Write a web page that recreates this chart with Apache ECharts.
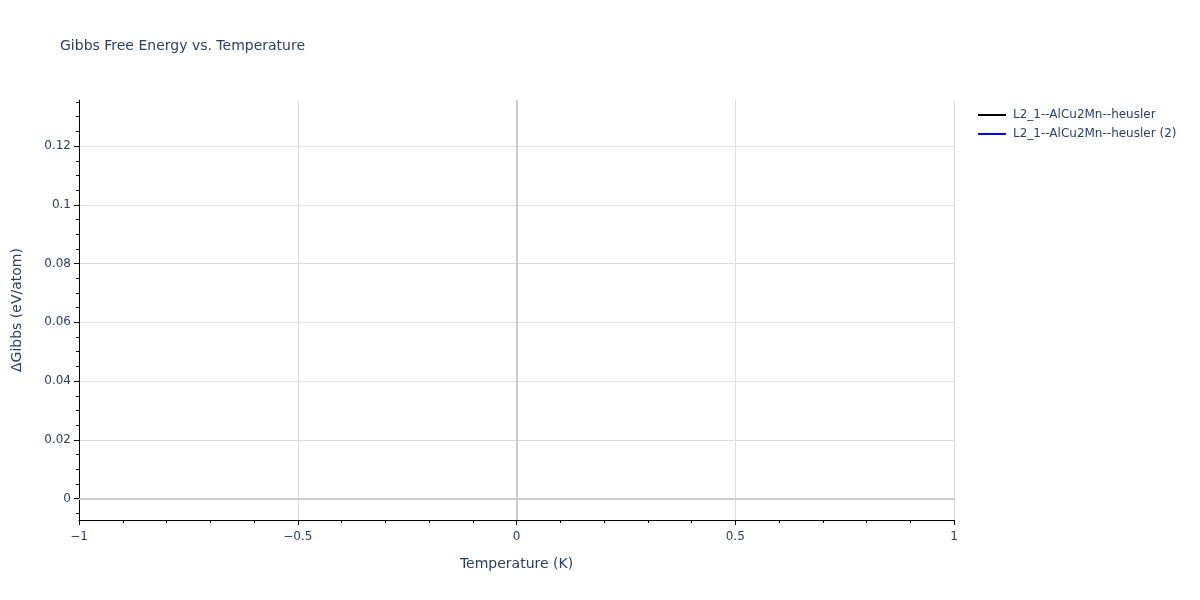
<!DOCTYPE html>
<html>
<head>
<meta charset="utf-8">
<script src="https://cdn.jsdelivr.net/npm/echarts@6/dist/echarts.min.js"></script>
<style>
    html, body { margin: 0; padding: 0; background: #fff; }
    #chart { width: 1200px; height: 600px; }
</style>
</head>
<body>
<div id="chart"></div>
<script>
// series names and values (the traces carry no visible points)
var seriesNames = ['L2_1--AlCu2Mn--heusler', 'L2_1--AlCu2Mn--heusler (2)'];
var seriesColors = ['#000000', '#0000ff'];
var temperature = [0];
var gibbsA = [0];
var gibbsB = [0];

// axis ranges and tick values
var xRange = [-1, 1];
var yRange = [-0.0073, 0.1357];
var yMajorTicks = [0, 0.02, 0.04, 0.06, 0.08, 0.1, 0.12];
var yMinorTicks = [-0.005, 0.005, 0.01, 0.015, 0.025, 0.03, 0.035, 0.045, 0.05, 0.055,
    0.065, 0.07, 0.075, 0.085, 0.09, 0.095, 0.105, 0.11, 0.115, 0.125, 0.13, 0.135];

var textColor = '#2a3f5f';
var fontFamily = '"DejaVu Sans", Verdana, sans-serif';

function toPairs(xs, ys) {
    return xs.map(function (x, i) { return [x, ys[i]]; });
}

function minus(v) {
    return String(v).replace('-', '\u2212');
}

var chart = echarts.init(document.getElementById('chart'), null, { renderer: 'canvas' });

var option = {
    backgroundColor: '#fff',
    textStyle: { fontFamily: fontFamily },
    title: {
        text: 'Gibbs Free Energy vs. Temperature',
        left: 55,
        top: 34,
        textStyle: { color: textColor, fontSize: 14, fontWeight: 'normal', fontFamily: fontFamily }
    },
    legend: {
        orient: 'vertical',
        left: 973,
        top: 104,
        itemWidth: 28,
        itemHeight: 2,
        itemGap: 7,
        icon: 'rect',
        textStyle: { color: textColor, fontSize: 12, padding: [0, 0, 0, 2], fontFamily: fontFamily },
        data: seriesNames
    },
    grid: { left: 79, right: 246, top: 100, bottom: 80 },
    xAxis: {
        type: 'value',
        min: xRange[0],
        max: xRange[1],
        interval: 0.5,
        name: 'Temperature (K)',
        nameLocation: 'middle',
        nameGap: 37,
        nameTextStyle: { color: textColor, fontSize: 14, fontFamily: fontFamily },
        axisLine: { show: true, onZero: false, lineStyle: { color: '#000', width: 1 } },
        axisTick: { show: true, length: 5, lineStyle: { color: '#000' } },
        minorTick: { show: true, splitNumber: 5, length: 3, lineStyle: { color: '#000' } },
        axisLabel: {
            color: textColor, fontSize: 12, margin: 11,
            formatter: function (v) { return minus(v); }
        },
        splitLine: { show: true, lineStyle: { color: '#dddddd', width: 1 } }
    },
    yAxis: [{
        type: 'value',
        min: yRange[0],
        max: yRange[1],
        name: '\u0394Gibbs (eV/atom)',
        nameLocation: 'middle',
        nameGap: 55,
        nameTextStyle: { color: textColor, fontSize: 14, fontFamily: fontFamily },
        axisLine: { show: true, onZero: false, lineStyle: { color: '#000', width: 1 } },
        axisTick: { show: true, length: 5, customValues: yMajorTicks, lineStyle: { color: '#000' } },
        axisLabel: {
            color: textColor, fontSize: 12, margin: 8,
            customValues: yMajorTicks,
            formatter: function (v) { return minus(+v.toFixed(3)); }
        },
        splitLine: { show: true, lineStyle: { color: '#dddddd', width: 1 } }
    }, {
        type: 'value',
        min: yRange[0],
        max: yRange[1],
        position: 'left',
        axisLine: { show: false, onZero: false },
        axisTick: { show: true, length: 3, customValues: yMinorTicks, lineStyle: { color: '#000' } },
        axisLabel: { show: false },
        splitLine: { show: false }
    }],
    series: [{
        name: seriesNames[0],
        type: 'line',
        data: toPairs(temperature, gibbsA),
        showSymbol: false,
        color: seriesColors[0],
        lineStyle: { width: 2 },
        markLine: {
            silent: true,
            symbol: 'none',
            label: { show: false },
            lineStyle: { color: '#cccccc', width: 2, type: 'solid' },
            data: [{ xAxis: 0 }, { yAxis: 0 }]
        }
    }, {
        name: seriesNames[1],
        type: 'line',
        data: toPairs(temperature, gibbsB),
        showSymbol: false,
        color: seriesColors[1],
        lineStyle: { width: 2 }
    }]
};

chart.setOption(option);
</script>
</body>
</html>
